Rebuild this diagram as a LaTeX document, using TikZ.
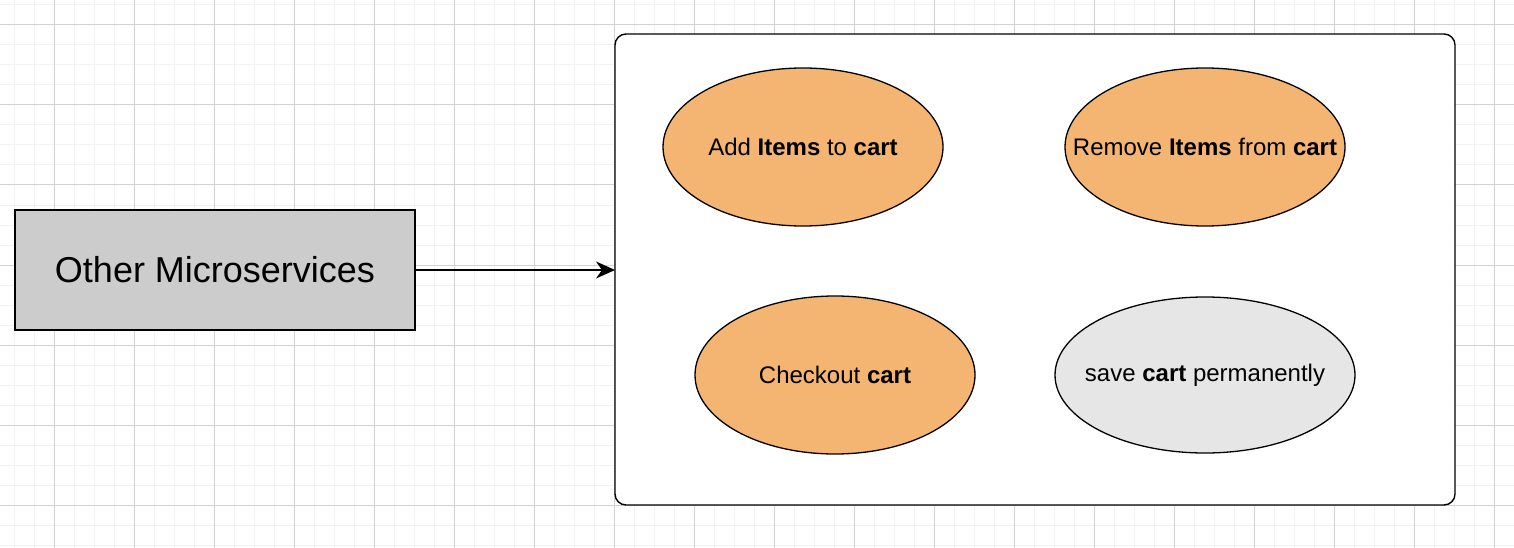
\documentclass[tikz,border=0pt]{standalone}
\usepackage{fontspec}
\setmainfont{Liberation Sans}
\usetikzlibrary{shapes.geometric,arrows.meta}

\definecolor{gridminor}{HTML}{F2F2F2}
\definecolor{gridmajor}{HTML}{D2D2D2}
\definecolor{cartorange}{HTML}{F4B572}
\definecolor{cartgrey}{HTML}{E6E6E6}
\definecolor{svcgrey}{HTML}{CCCCCC}

\tikzset{
  usecase/.style={ellipse,draw=black,line width=1.3pt,fill=cartorange,
    inner sep=0pt,minimum width=280pt,minimum height=158pt,
    font=\fontsize{24}{28}\selectfont},
  service/.style={rectangle,draw=black,line width=1.3pt,fill=svcgrey,
    minimum width=400pt,minimum height=120pt,inner sep=0pt,
    font=\fontsize{36}{42}\selectfont}
}

\begin{document}
\begin{tikzpicture}[x=1pt,y=-1pt]
        \useasboundingbox (0,0) rectangle (1514,548);
        \fill[white] (0,0) rectangle (1514,548);

        \foreach \x in {14,34,...,1514}
          \draw[gridminor,line width=1pt] (\x,0) -- (\x,548);
        \foreach \y in {5,25,...,545}
          \draw[gridminor,line width=1pt] (0,\y) -- (1514,\y);
        \foreach \x in {54,134,...,1494}
          \draw[gridmajor,line width=1pt] (\x,0) -- (\x,548);
        \foreach \y in {25,105,...,505}
          \draw[gridmajor,line width=1pt] (0,\y) -- (1514,\y);

        \node[service] (others) at (215,270) {Other Microservices};

        \draw[fill=white,line width=1.4pt,rounded corners=11pt] (615,34) rectangle (1455,505);
        \coordinate (cartin) at (615,270);

        \draw[line width=1.4pt,-{Stealth[length=19pt,width=17pt,inset=6pt]}] (others.east) -- (cartin);

        \node[usecase] (additems) at (803,147) {\makebox[0pt]{Add \textbf{Items} to \textbf{cart}}};
        \node[usecase] (removeitems) at (1205,147) {\makebox[0pt]{Remove \textbf{Items} from \textbf{cart}}};
        \node[usecase] (checkout) at (835,375) {\makebox[0pt]{Checkout \textbf{cart}}};
        \node[usecase,fill=cartgrey,minimum width=300pt,minimum height=156pt] (savecart) at (1205,375) {\makebox[0pt]{save \textbf{cart} permanently}};

      \end{tikzpicture}
\end{document}
